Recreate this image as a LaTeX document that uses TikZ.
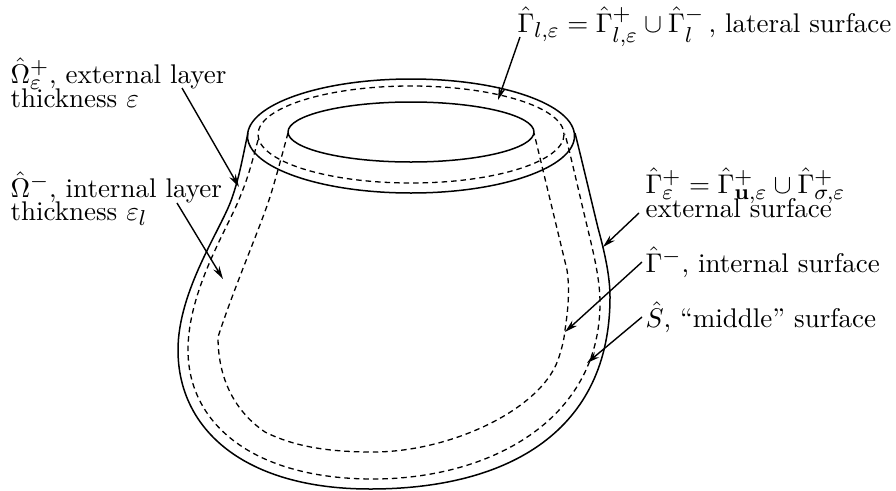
\documentclass[tikz,border=0pt]{standalone}
\usetikzlibrary{arrows.meta}
\DeclareMathSizes{10}{10}{8}{6}
\tikzset{
  x=1pt,y=-1pt,
  solidline/.style={line width=1.5pt,line join=round},
  dashline/.style={line width=1.3pt,dash pattern=on 5.5pt off 4pt},
  pointer/.style={line width=1.4pt,-{Stealth[length=13pt,width=7pt]}},
  lab/.style={anchor=base west,inner sep=0pt,scale=2.7},
}
\begin{document}
\begin{tikzpicture}
\useasboundingbox (0,0) rectangle (896,490);
% rings
\draw[solidline] (411,136) ellipse [x radius=163.5,y radius=57];
\draw[dashline] (411,134.5) ellipse [x radius=153,y radius=48.5];
\draw[solidline] (411,132) ellipse [x radius=123,y radius=30];
% outer wall
\draw[solidline] (248,133) .. controls (243,155) and (240,175) .. (232,198)
  .. controls (222,228) and (178,290) .. (178,350)
  .. controls (178,430) and (245,489) .. (370,489)
  .. controls (510,489) and (610,430) .. (610,297)
  .. controls (610,275) and (604,250) .. (598,228)
  .. controls (590,195) and (583,165) .. (575,133);
% middle surface
\draw[dashline] (258,140) .. controls (250,170) and (247,180) .. (240,197)
  .. controls (228,228) and (188,290) .. (188,350)
  .. controls (188,425) and (255,479) .. (373,479)
  .. controls (490,479) and (600,420) .. (600,303)
  .. controls (600,280) and (594,255) .. (588,230)
  .. controls (580,197) and (573,165) .. (565,134);
% internal surface
\draw[dashline] (288,133) .. controls (282,155) and (276,178) .. (270,197)
  .. controls (260,228) and (235,285) .. (218,337)
  .. controls (218,385) and (240,415) .. (265,432)
  .. controls (295,447) and (330,452) .. (373,452)
  .. controls (450,452) and (540,410) .. (558,360)
  .. controls (562,348) and (564,340) .. (565,330)
  .. controls (568,310) and (570,290) .. (567,270)
  -- (534,133);
% labels
\node[lab] (ext) at (10,83) {$\hat\Omega_\varepsilon^+$, external layer};
\node[lab] (extb) at (10,107) {thickness $\varepsilon$};
\node[lab] (int) at (10,197) {$\hat\Omega^-$, internal layer};
\node[lab] (intb) at (10,220) {thickness $\varepsilon_l$};
\node[lab] (lat) at (517,32) {$\hat\Gamma_{l,\varepsilon}=\hat\Gamma_{l,\varepsilon}^+\cup\hat\Gamma_l^-\,$, lateral surface};
\node[lab] (esf) at (645,193) {$\hat\Gamma_\varepsilon^+=\hat\Gamma_{\mathbf{u},\varepsilon}^+\cup\hat\Gamma_{\sigma,\varepsilon}^+$};
\node[lab] (esfb) at (645,217) {external surface};
\node[lab] (isf) at (645,272) {$\hat\Gamma^-$, internal surface};
\node[lab] (msf) at (645,327) {$\hat S$, ``middle'' surface};
% arrow ends
\coordinate (a1s) at (182,88); \coordinate (a1e) at (239,187);
\coordinate (a2s) at (177,203); \coordinate (a2e) at (223,279);
\coordinate (a3s) at (520,37); \coordinate (a3e) at (498,100);
\coordinate (a4s) at (639,213); \coordinate (a4e) at (603,247);
\coordinate (a5s) at (642,262); \coordinate (a5e) at (565,332);
\coordinate (a6s) at (642,317); \coordinate (a6e) at (587,363);
\draw[pointer] (a1s) -- (a1e);
\draw[pointer] (a2s) -- (a2e);
\draw[pointer] (a3s) -- (a3e);
\draw[pointer] (a4s) -- (a4e);
\draw[pointer] (a5s) -- (a5e);
\draw[pointer] (a6s) -- (a6e);
\end{tikzpicture}
\end{document}
